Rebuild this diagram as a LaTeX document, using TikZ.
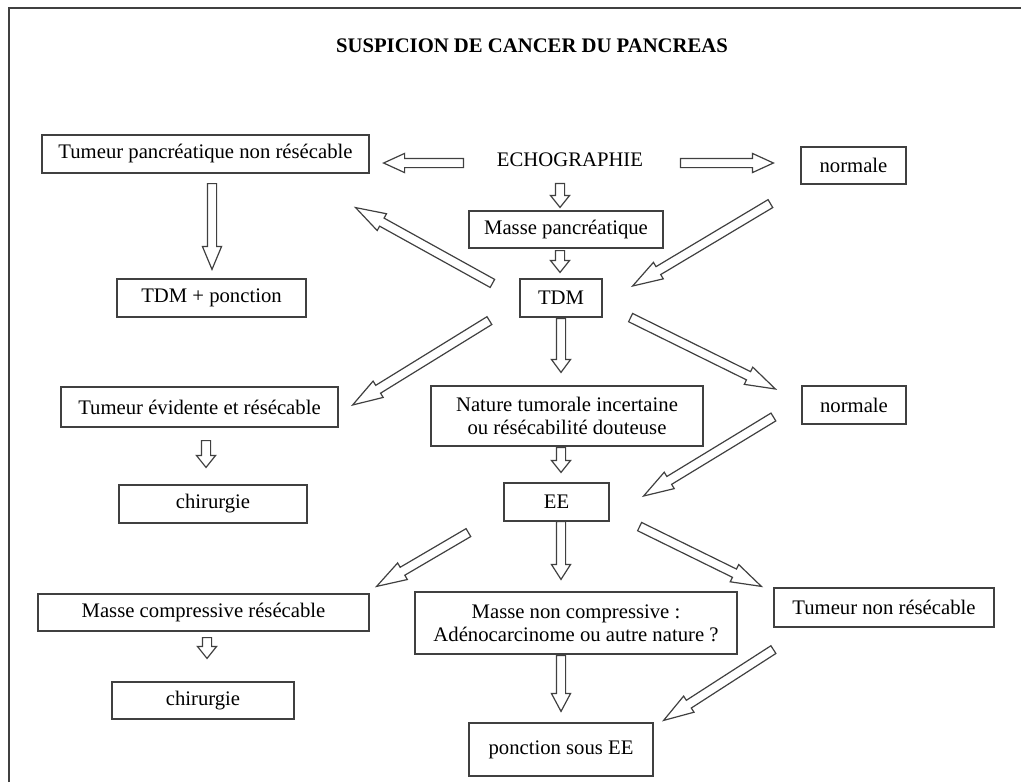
\documentclass[tikz,border=0pt]{standalone}
\usepackage{fontspec}
\setmainfont{Liberation Serif}
\usetikzlibrary{calc}
\tikzset{
  box/.style={draw=black!75, line width=0.6pt, inner sep=0pt, align=center},
  tiplen/.store in=\tiplen, tiplen=6pt,
  blockarrow/.style={draw=black!75, line width=0.6pt, line join=miter, to path={
    let \p1=(\tikztostart), \p2=(\tikztotarget), \p3=($(\p2)!\tiplen!(\p1)$) in
    ($(\p1)!2.3pt!90:(\p2)$) -- ($(\p3)!2.3pt!-90:(\p1)$) -- ($(\p3)!4.8pt!-90:(\p1)$) -- (\p2)
    -- ($(\p3)!4.8pt!90:(\p1)$) -- ($(\p3)!2.3pt!90:(\p1)$) -- ($(\p1)!2.3pt!-90:(\p2)$) -- cycle}},
}
\begin{document}
\begin{tikzpicture}[x=0.5pt, y=-0.5pt, font=\fontsize{10.35}{11.5}\selectfont]
\useasboundingbox (0,0) rectangle (1021,782);
\draw[black!75, line width=0.8pt] (9,782) -- (9,8) -- (1021,8);
\node[font=\fontsize{10.35}{11.5}\selectfont\bfseries] (title) at (532,46) {SUSPICION DE CANCER DU PANCREAS};
\node[inner sep=0pt, minimum height=10pt] (echo) at (570,160) {ECHOGRAPHIE};
\node[box, minimum width=163.5pt, minimum height=19pt] (nonres) at (205.5,154) {Tumeur pancréatique non résécable};
\node[box, minimum width=52.5pt, minimum height=18.5pt] (normA) at (853.5,165.5) {normale};
\node[box, minimum width=97pt, minimum height=18.5pt] (masse) at (566,229.5) {Masse pancréatique};
\node[box, minimum width=41pt, minimum height=19pt] (tdm) at (561,298) {TDM};
\node[box, minimum width=94.5pt, minimum height=19pt] (tdmpon) at (211.5,298) {TDM + ponction};
\node[box, minimum width=138.5pt, minimum height=20pt] (evid) at (199.5,407) {Tumeur évidente et résécable};
\node[box, minimum width=94pt, minimum height=19pt] (chirA) at (213,504) {chirurgie};
\node[box, minimum width=136pt, minimum height=30pt] (nature) at (567,416) {Nature tumorale incertaine\\ou résécabilité douteuse};
\node[box, minimum width=52pt, minimum height=19pt] (normB) at (854,405) {normale};
\node[box, minimum width=52.5pt, minimum height=19pt] (ee) at (556.5,502) {EE};
\node[box, minimum width=165.5pt, minimum height=18.5pt] (mcomp) at (203.5,612.5) {Masse compressive résécable};
\node[box, minimum width=91pt, minimum height=18.5pt] (chirB) at (203,700.5) {chirurgie};
\node[box, minimum width=161pt, minimum height=31pt] (mnc) at (576,623) {Masse non compressive :\\Adénocarcinome ou autre nature ?};
\node[box, minimum width=110pt, minimum height=19.5pt] (tnr) at (884,607.5) {Tumeur non résécable};
\node[box, minimum width=92pt, minimum height=26.5pt] (ponc) at (561,749.5) {ponction sous EE};
\draw[blockarrow, tiplen=10.5pt] ([shift={(-33,3)}]echo.west) to ([shift={(14,9)}]nonres.east);
\draw[blockarrow, tiplen=10.5pt] ([shift={(37,3)}]echo.east) to ([shift={(-27,-2.5)}]normA.west);
\draw[blockarrow] ([shift={(-10,13)}]echo.south) to ([shift={(-6,-3)}]masse.north);
\draw[blockarrow] ([shift={(-6,2)}]masse.south) to ([shift={(-1,-6)}]tdm.north);
\draw[blockarrow, tiplen=11.5pt] ([shift={(6.5,10)}]nonres.south) to ([shift={(0.5,-9)}]tdmpon.north);
\draw[blockarrow, tiplen=15pt] ([shift={(-27,5)}]tdm.north west) to ([shift={(-14,34)}]nonres.south east);
\draw[blockarrow, tiplen=15pt] ([shift={(-30,19)}]normA.south west) to ([shift={(30,-12)}]tdm.east);
\draw[blockarrow, tiplen=15pt] ([shift={(-30,3)}]tdm.south west) to ([shift={(14,-2)}]evid.east);
\draw[blockarrow, tiplen=6.5pt] ([shift={(0,1)}]tdm.south) to ([shift={(-6,-13)}]nature.north);
\draw[blockarrow, tiplen=15pt] ([shift={(28,0)}]tdm.south east) to ([shift={(-26,-16)}]normB.west);
\draw[blockarrow] ([shift={(6.5,13)}]evid.south) to ([shift={(-7,-17)}]chirA.north);
\draw[blockarrow] ([shift={(-6,1)}]nature.south) to ([shift={(4.5,-10)}]ee.north);
\draw[blockarrow, tiplen=15pt] ([shift={(-28,12)}]normB.west) to ([shift={(34,-6)}]ee.east);
\draw[blockarrow, tiplen=15pt] ([shift={(-35,11)}]ee.south west) to ([shift={(7,-7)}]mcomp.north east);
\draw[blockarrow, tiplen=7.5pt] ([shift={(4.5,0)}]ee.south) to ([shift={(-15,-12)}]mnc.north);
\draw[blockarrow, tiplen=15pt] ([shift={(30,5)}]ee.south east) to ([shift={(-12,-1)}]tnr.north west);
\draw[blockarrow] ([shift={(3.5,6)}]mcomp.south) to ([shift={(4,-23)}]chirB.north);
\draw[blockarrow, tiplen=9pt] ([shift={(-15,1)}]mnc.south) to ([shift={(0,-11)}]ponc.north);
\draw[blockarrow, tiplen=15pt] ([shift={(0,22)}]tnr.south west) to ([shift={(10,-2)}]ponc.north east);
\end{tikzpicture}
\end{document}
